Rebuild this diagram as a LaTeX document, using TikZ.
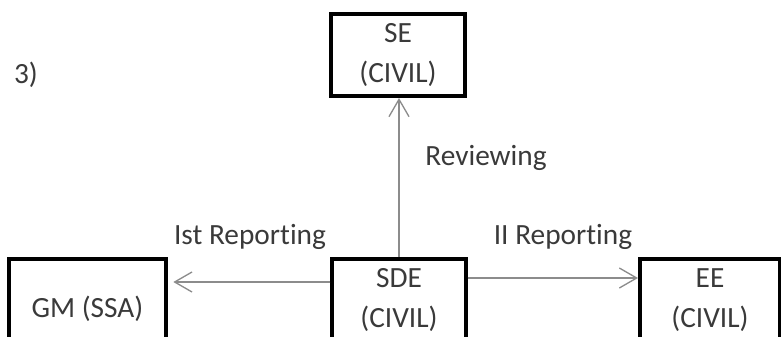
\documentclass[tikz,border=0pt]{standalone}
\usepackage{fontspec}
\setmainfont[Ligatures = NoCommon]{Carlito}
\usepackage{tikz}
\usetikzlibrary{arrows.meta}
\usepackage{xcolor}
\definecolor{inkgray}{HTML}{3A3A3A}
\definecolor{linegray}{HTML}{8C8C8C}

\begin{document}
\begin{tikzpicture}[x = 0.75pt, y = -0.75pt,
	box/.style = {draw = black, line width = 3pt, minimum height = 61.5pt, align = center, inner sep = 0pt, font = \fontsize{22}{30}\selectfont, text = inkgray},
	txt/.style = {font = \fontsize{22}{30}\selectfont, text = inkgray},
	link/.style = {draw = linegray, line width = 1.2pt, -{Straight Barb[length = 13pt, width = 15pt, line width = 1pt]}}]
	\useasboundingbox (0,0) rectangle (781,336);
	\clip (0,0) rectangle (781,336);
	\node[box, minimum width = 100.5pt] (se) at (398, 55) {SE\\(CIVIL)};
	\node[box, minimum width = 117.75pt] (gm) at (87.5, 300) {\mbox{}\\GM (SSA)};
	\node[box, minimum width = 100pt] (sde) at (399, 300) {SDE\\(CIVIL)};
	\node[box, minimum width = 105pt] (ee) at (710, 300) {EE\\(CIVIL)};
	\draw[link] (sde.north) -- (sde.north |- se.south);
	\draw[link] ([yshift = 13.5pt]sde.west) -- ([yshift = 13.5pt, xshift = 4pt]gm.east);
	\draw[link] ([yshift = 16.5pt]sde.east) -- ([yshift = 16.5pt]ee.west);
	\node[txt] (num) at (26, 75) {3)};
	\node[txt] (rev) at (486, 158) {Reviewing};
	\node[txt] (rep1) at (250, 237) {Ist Reporting};
	\node[txt] (rep2) at (563, 237) {II Reporting};
\end{tikzpicture}
\end{document}
